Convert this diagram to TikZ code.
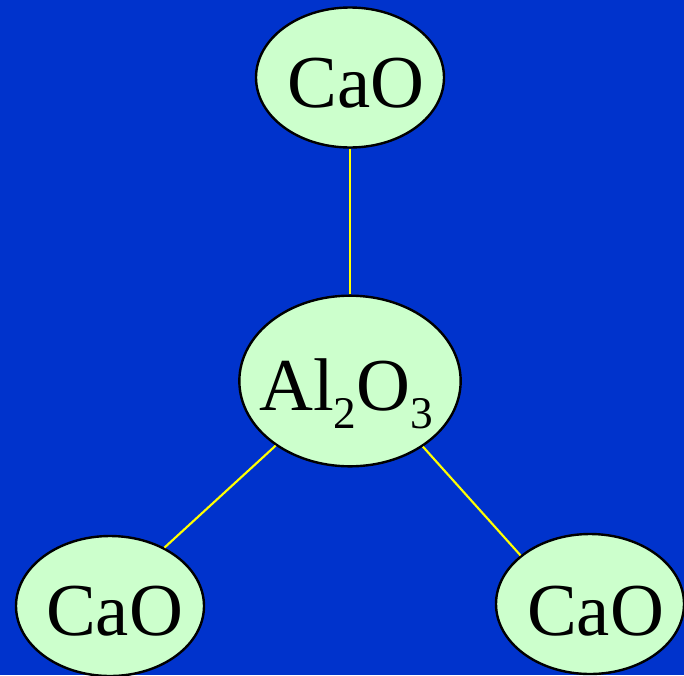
\documentclass[tikz,border=0pt]{standalone}
\usepackage{fontspec}
\setmainfont{Liberation Serif}
\usetikzlibrary{shapes.geometric}
\definecolor{bgblue}{RGB}{0,51,204}
\definecolor{palegreen}{RGB}{204,255,204}
\definecolor{lineyellow}{RGB}{255,255,0}
\begin{document}
\begin{tikzpicture}[x=0.75pt,y=-0.75pt,
  oxide/.style={ellipse,draw=black,line width=1.8pt,fill=palegreen,inner sep=0pt},
  small/.style={oxide,minimum width=141pt,minimum height=105pt},
  big/.style={oxide,minimum width=166pt,minimum height=128pt},
  lbl/.style={inner sep=0pt,font=\fontsize{56}{60}\selectfont},
  bond/.style={draw=lineyellow,line width=1.6pt}]
\fill[bgblue] (0,0) rectangle (684,675);
\useasboundingbox (0,0) rectangle (684,675);
% ellipses
\node[small] (top) at (350,77.5) {};
\node[big] (al) at (350,381) {};
\node[small] (bl) at (110,606) {};
\node[small] (br) at (590,604) {};
% labels
\node[lbl,anchor=base] (ttop) at (356,107) {CaO};
\node[lbl,anchor=base] (tbl) at (114.5,635) {CaO};
\node[lbl,anchor=base] (tbr) at (595.5,635) {CaO};
\node[lbl,anchor=base west] (tal) at (259,410) {Al\raisebox{-13.5pt}{\fontsize{34}{34}\selectfont 2}O\raisebox{-13.5pt}{\fontsize{34}{34}\selectfont 3}};
% bonds
\draw[bond] (al.north) -- (top.south);
\draw[bond] (al.221.3) -- (bl.47);
\draw[bond] (al.-42.1) -- (br.145.9);
\end{tikzpicture}
\end{document}
